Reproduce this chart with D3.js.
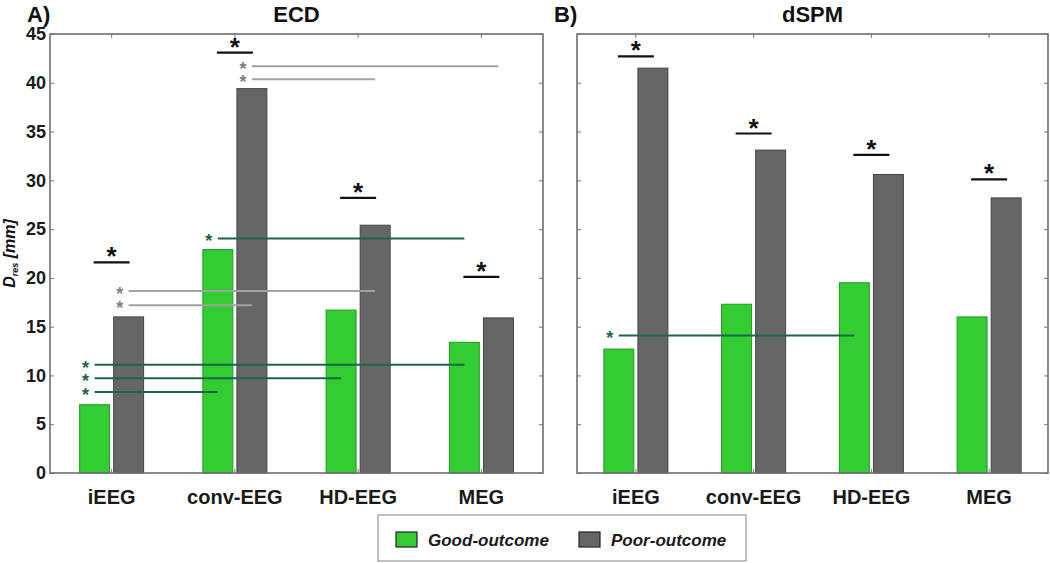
<!DOCTYPE html>
<html><head><meta charset="utf-8">
<script src="https://cdn.jsdelivr.net/npm/d3@7"></script>
<style>body{margin:0;background:#fff}svg{display:block;font-family:"Liberation Sans",Arial,sans-serif}</style>
</head><body><svg id="c" width="1050" height="563"></svg>
<script>
const categories = ["iEEG", "conv-EEG", "HD-EEG", "MEG"];
const yTicks = [0, 5, 10, 15, 20, 25, 30, 35, 40, 45];
const seriesNames = ["Good-outcome", "Poor-outcome"];
// ECD panel
const ecdGood = [7.0, 22.9, 16.7, 13.4];
const ecdPoor = [16.0, 39.4, 25.4, 15.9];
const ecdBracketY = [21.6, 43.1, 28.2, 20.1];
const ecdComparisons = [
  {series: "poor", from: 1, to: 3, y: 41.7},
  {series: "poor", from: 1, to: 2, y: 40.35},
  {series: "poor", from: 0, to: 2, y: 18.65},
  {series: "poor", from: 0, to: 1, y: 17.2},
  {series: "good", from: 1, to: 3, y: 24.05},
  {series: "good", from: 0, to: 3, y: 11.1},
  {series: "good", from: 0, to: 2, y: 9.7},
  {series: "good", from: 0, to: 1, y: 8.3}
];
// dSPM panel
const dspmGood = [12.7, 17.3, 19.5, 16.0];
const dspmPoor = [41.5, 33.1, 30.6, 28.2];
const dspmBracketY = [42.7, 34.8, 32.6, 30.1];
const dspmComparisons = [
  {series: "good", from: 0, to: 2, y: 14.1}
];

const colors = {good: "#33cc33", poor: "#666666"};
const strokes = {good: "#229922", poor: "#444444"};
const compLine = {good: "#1e6446", poor: "#a2a2a2"};
const compStar = {good: "#1e6446", poor: "#808080"};

const svg = d3.select("#c");
const yTop = 34, yBot = 473;
const y = d3.scaleLinear().domain([0, 45]).range([yBot, yTop]);

function panel(x0, x1, good, poor, bracketY, comps, letter, title, showLabels) {
  const g = svg.append("g");
  const xb = d3.scaleBand().domain(categories).range([x0, x1]);
  const xs = d3.scaleBand().domain(["good", "poor"]).range([-32, 32]).paddingInner(0.12);
  const cx = c => xb(c) + xb.bandwidth() / 2;
  const barCenter = (i, s) => cx(categories[i]) + xs(s) + xs.bandwidth() / 2;

  const rows = categories.map((c, i) => ({c, i, good: good[i], poor: poor[i]}));
  ["good", "poor"].forEach(s => {
    g.selectAll(null).data(rows).join("rect")
      .attr("x", d => cx(d.c) + xs(s))
      .attr("width", xs.bandwidth())
      .attr("y", d => y(d[s]))
      .attr("height", d => y(0) - y(d[s]))
      .attr("fill", colors[s])
      .attr("stroke", strokes[s])
      .attr("stroke-width", 1);
  });

  const ax = g.append("g").attr("transform", `translate(${x0},0)`)
    .call(d3.axisLeft(y).tickValues(yTicks).tickSizeInner(-4).tickSizeOuter(0).tickPadding(4)
      .tickFormat(showLabels ? d3.format("d") : ""));
  const axR = g.append("g").attr("transform", `translate(${x1},0)`)
    .call(d3.axisRight(y).tickValues(yTicks).tickSizeInner(-4).tickSizeOuter(0).tickFormat(""));
  const axB = g.append("g").attr("transform", `translate(0,${yBot})`)
    .call(d3.axisBottom(xb).tickSizeInner(-4).tickSizeOuter(0).tickPadding(17));
  const axT = g.append("g").attr("transform", `translate(0,${yTop})`)
    .call(d3.axisTop(xb).tickSizeInner(-4).tickSizeOuter(0).tickFormat(""));
  [ax, axR, axB, axT].forEach(a => {
    a.select(".domain").remove();
    a.selectAll(".tick line").attr("stroke", "#777").attr("stroke-width", 1);
  });
  ax.selectAll("text").attr("font-size", 18).attr("font-weight", "bold").attr("fill", "#1a1a1a")
    .attr("font-family", "Liberation Sans, Arial, sans-serif");
  axB.selectAll("text").attr("font-size", 20).attr("font-weight", "bold").attr("fill", "#1a1a1a")
    .attr("font-family", "Liberation Sans, Arial, sans-serif");

  g.append("rect").attr("x", x0).attr("y", yTop).attr("width", x1 - x0).attr("height", yBot - yTop)
    .attr("fill", "none").attr("stroke", "#6e6e6e").attr("stroke-width", 1.6);

  comps.forEach(d => {
    const xa = barCenter(d.from, d.series), xe = barCenter(d.to, d.series);
    g.append("line").attr("x1", xa).attr("x2", xe).attr("y1", y(d.y)).attr("y2", y(d.y))
      .attr("stroke", compLine[d.series]).attr("stroke-width", 2);
    g.append("text").attr("x", xa - 9).attr("y", y(d.y) + 9).attr("text-anchor", "middle")
      .attr("font-size", 18).attr("font-weight", "bold").attr("fill", compStar[d.series]).text("*");
  });

  categories.forEach((c, i) => {
    const yy = y(bracketY[i]);
    g.append("line").attr("x1", cx(c) - 18).attr("x2", cx(c) + 18).attr("y1", yy).attr("y2", yy)
      .attr("stroke", "#111").attr("stroke-width", 2.2);
    g.append("text").attr("x", cx(c)).attr("y", yy + 3).attr("text-anchor", "middle")
      .attr("font-size", 26).attr("font-weight", "bold").attr("fill", "#111").text("*");
  });

  svg.append("text").attr("x", x0 - 23).attr("y", 22).attr("font-size", 22).attr("font-weight", "bold")
    .attr("fill", "#111").text(letter);
  svg.append("text").attr("x", (x0 + x1) / 2).attr("y", 22).attr("text-anchor", "middle")
    .attr("font-size", 22).attr("font-weight", "bold").attr("fill", "#111").text(title);
}

panel(50, 543, ecdGood, ecdPoor, ecdBracketY, ecdComparisons, "A)", "ECD", true);
panel(577, 1048, dspmGood, dspmPoor, dspmBracketY, dspmComparisons, "B)", "dSPM", false);

const yl = svg.append("text").attr("transform", `translate(15,${(yTop + yBot) / 2}) rotate(-90)`)
  .attr("text-anchor", "middle").attr("font-size", 16).attr("font-weight", "bold")
  .attr("font-style", "italic").attr("fill", "#111");
yl.append("tspan").text("D");
yl.append("tspan").attr("font-size", 9).attr("dy", 3).text("res");
yl.append("tspan").attr("dy", -3).text(" [mm]");

const lg = svg.append("g");
lg.append("rect").attr("x", 378).attr("y", 515).attr("width", 368).attr("height", 46)
  .attr("fill", "#fff").attr("stroke", "#999").attr("stroke-width", 1.2);
const legendItems = [{k: "good", x: 396}, {k: "poor", x: 579}];
legendItems.forEach((d, i) => {
  lg.append("rect").attr("x", d.x).attr("y", 532).attr("width", 21).attr("height", 15)
    .attr("fill", colors[d.k]).attr("stroke", "#222").attr("stroke-width", 1.2);
  lg.append("text").attr("x", d.x + 32).attr("y", 546).attr("font-size", 17).attr("font-weight", "bold")
    .attr("font-style", "italic").attr("fill", "#1a1a1a").text(seriesNames[i]);
});
</script></body></html>
